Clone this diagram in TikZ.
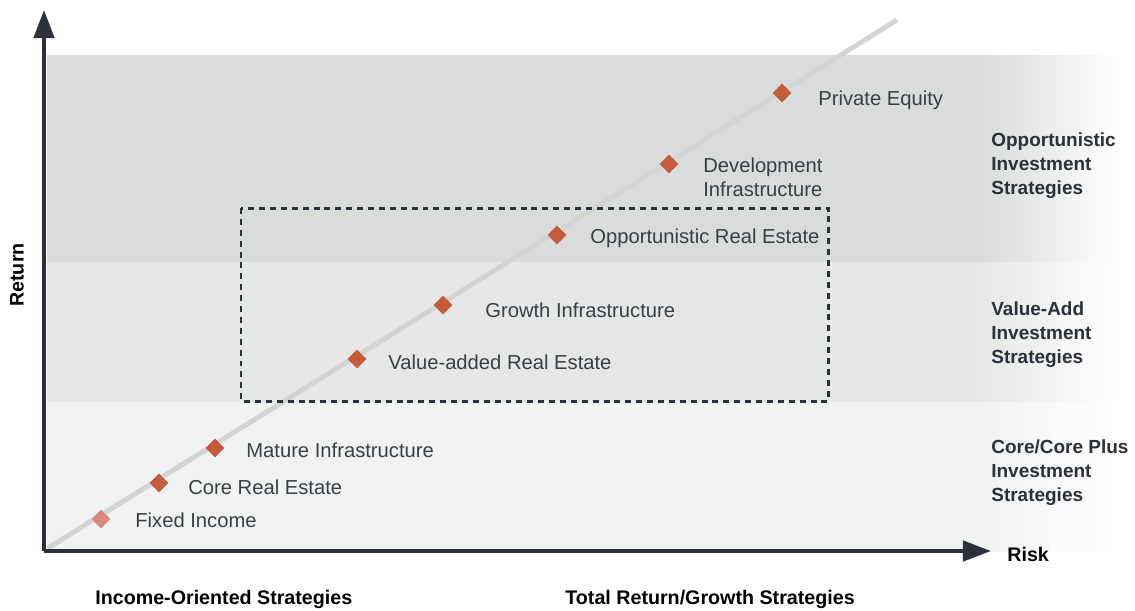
\documentclass[tikz,border=0pt]{standalone}
\usepackage{fontspec}
\setmainfont{Liberation Sans}
\usepackage{tikz}
\usetikzlibrary{arrows.meta,shapes.geometric}
\definecolor{bandhigh}{HTML}{D9DCDB}
\definecolor{bandmid}{HTML}{E6E7E7}
\definecolor{bandlow}{HTML}{F1F2F2}
\definecolor{trendgray}{HTML}{D3D4D4}
\definecolor{rust}{HTML}{C65B3C}
\definecolor{rustlight}{HTML}{D98A78}
\definecolor{axisdark}{HTML}{2C3038}
\definecolor{labeltext}{HTML}{3B3E45}
\tikzstyle{asset}=[diamond, fill=rust, inner sep=0, minimum size=10.8pt]
\tikzstyle{assetlabel}=[anchor=base west, inner sep=0, text=labeltext, font=\fontsize{11.5}{13.6}\selectfont]
\tikzstyle{bandlabel}=[anchor=west, inner sep=0, align=left, text=axisdark, font=\fontsize{10.8}{13.6}\selectfont\bfseries]
\tikzstyle{axislabel}=[inner sep=0, text=black, font=\fontsize{11.2}{13}\selectfont\bfseries]

\begin{document}
\begin{tikzpicture}[x=0.02cm, y=-0.02cm]
        \useasboundingbox (0,0) rectangle (1135,610);
        % bands of the three strategy groups, fading out on the right
        \fill[bandhigh] (47,55) rectangle (980,262);
        \fill[bandmid] (47,262) rectangle (980,402);
        \fill[bandlow] (47,402) rectangle (980,551);
        \shade[left color=bandhigh, right color=white] (980,55) rectangle (1120,262);
        \shade[left color=bandmid, right color=white] (980,262) rectangle (1120,402);
        \shade[left color=bandlow, right color=white] (980,402) rectangle (1120,551);
        % risk/return line
        \coordinate (trendA) at (48,548);
        \coordinate (trendB) at (897,20);
        \draw[trendgray, line width=2.8pt] (trendA) -- (trendB);
        % value-add window
        \draw[axisdark, line width=1.7pt, dash pattern=on 3.4pt off 2.8pt] (241,208) rectangle (828,401);
        % axes
        \coordinate (origin) at (44,551);
        \coordinate (ytip) at (44,10);
        \coordinate (xtip) at (991,551);
        \draw[axisdark, line width=2.3pt, -{Triangle[length=16pt,width=11.5pt]}] (origin) -- (ytip);
        \draw[axisdark, line width=2.3pt, -{Triangle[length=16pt,width=11.5pt]}] (origin) -- (xtip);
        \node[axislabel, rotate=90] (ret) at (17,275) {Return};
        \node[axislabel, anchor=west] (risk) at (1007,554) {Risk};
        \node[axislabel, anchor=west] (income) at (95,599) {Income-Oriented Strategies};
        \node[axislabel, anchor=west] (total) at (565,599) {Total Return/Growth Strategies};
        % assets along the line
        \node[asset, fill=rustlight] (fixed) at (101,519) {};
        \node[asset] (corere) at (159,483) {};
        \node[asset] (matinf) at (215,448) {};
        \node[asset] (valre) at (357,359) {};
        \node[asset] (growinf) at (443,305) {};
        \node[asset] (oppre) at (557,235) {};
        \node[asset] (devinf) at (669,164) {};
        \node[asset] (peq) at (782,93) {};
        \node[assetlabel] (fixed-l) at (135,527) {Fixed Income};
        \node[assetlabel] (corere-l) at (188,494) {Core Real Estate};
        \node[assetlabel] (matinf-l) at (246,457) {Mature Infrastructure};
        \node[assetlabel] (valre-l) at (388,369) {Value-added Real Estate};
        \node[assetlabel] (growinf-l) at (485,317) {Growth Infrastructure};
        \node[assetlabel] (oppre-l) at (590,243) {Opportunistic Real Estate};
        \node[assetlabel] (devinf-l) at (703,172) {Development};
        \node[assetlabel] (devinf-l2) at (703,196) {Infrastructure};
        \node[assetlabel] (peq-l) at (818,105) {Private Equity};
        % strategy groups
        \node[bandlabel] (opp) at (991,166) {Opportunistic\\Investment\\Strategies};
        \node[bandlabel] (va) at (991,335) {Value-Add\\Investment\\Strategies};
        \node[bandlabel] (core) at (991,473) {Core/Core Plus\\Investment\\Strategies};
    \end{tikzpicture}
\end{document}
